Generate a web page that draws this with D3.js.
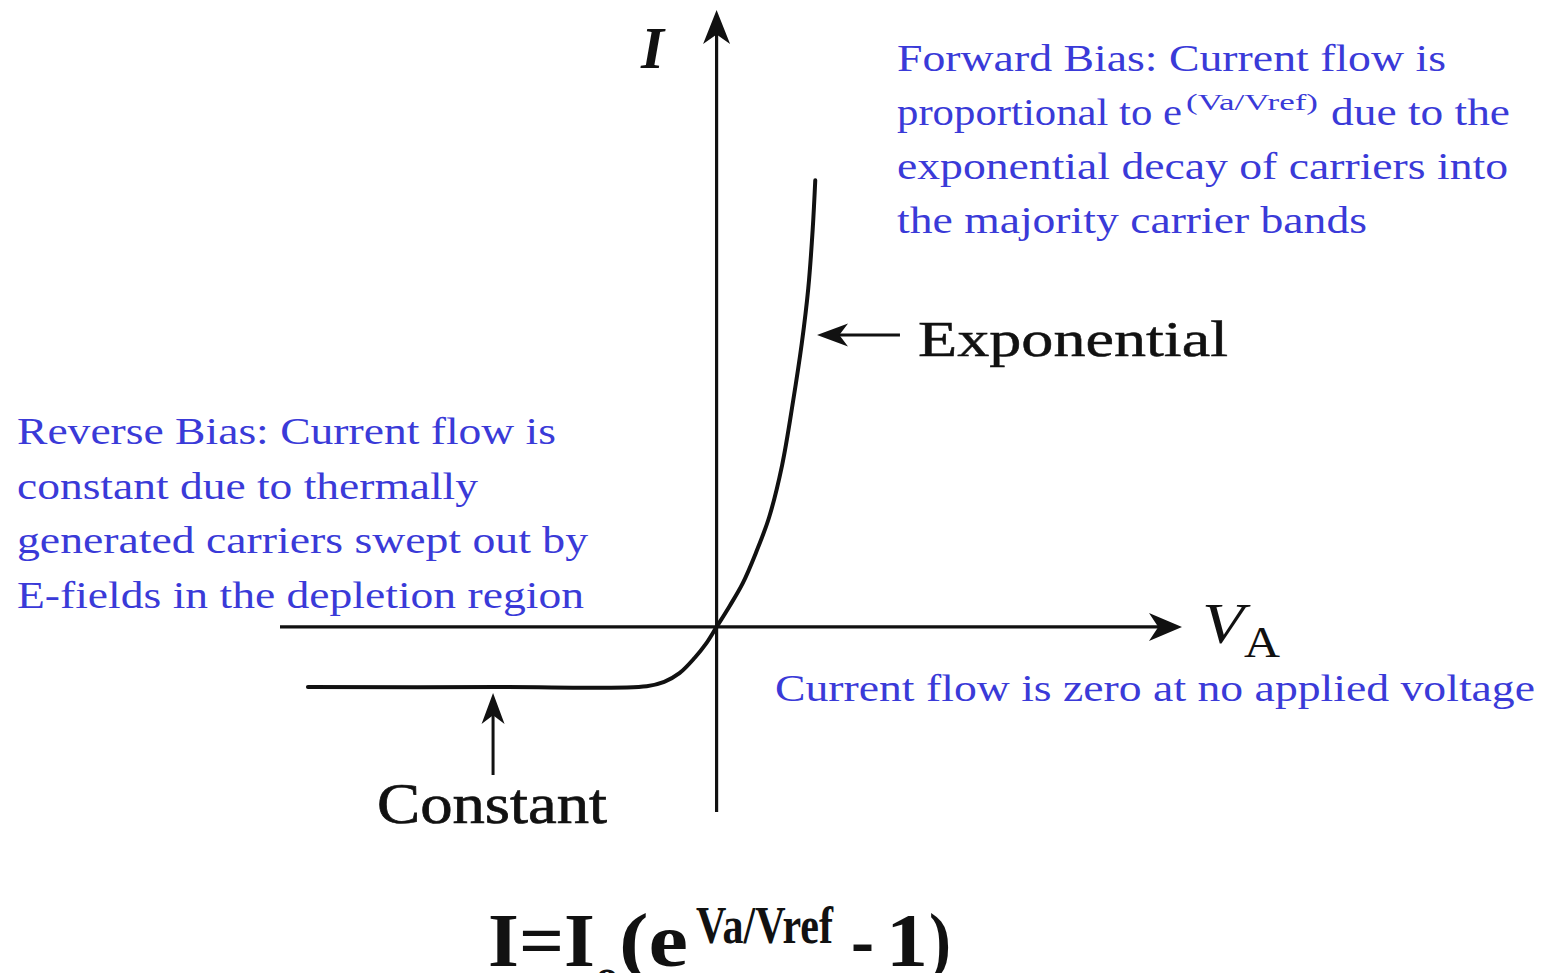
<!DOCTYPE html>
<html>
<head>
<meta charset="utf-8">
<script src="https://cdn.jsdelivr.net/npm/d3@7"></script>
<style>
  body { margin: 0; background: #fff; }
  svg { display: block; }
  text { font-family: "Liberation Serif", "DejaVu Serif Condensed", "DejaVu Serif", serif; }
</style>
</head>
<body>
<svg></svg>
<script>
// diode I-V curve (arbitrary units)
const voltage = [-0.936, -0.5, -0.16, -0.12, -0.085, -0.05, -0.025, 0, 0.03, 0.06, 0.09, 0.12, 0.15, 0.175, 0.195, 0.21, 0.22, 0.226];
const current = [-0.0975, -0.0975, -0.096, -0.089, -0.075, -0.05, -0.028, 0, 0.034, 0.071, 0.12, 0.177, 0.262, 0.365, 0.459, 0.549, 0.643, 0.724];

const vRange = [-1, 1.066];
const iRange = [-0.3, 1];

// arrows pointing at the curve: [from V, from I, to V, to I]
const arrowNotes = [
  [-0.512, -0.24, -0.512, -0.107],
  [0.42, 0.473, 0.23, 0.473]
];

const blueLeft = ["Reverse Bias: Current flow is", "constant due to thermally", "generated carriers swept out by", "E-fields in the depletion region"];
const blueLeftWidths = [539, 461, 571, 567];
const blueRight = ["Forward Bias: Current flow is", null, "exponential decay of carriers into", "the majority carrier bands"];
const blueRightWidths = [549, null, 611, 470];

// formula pieces: text, x, baseline, size, width
const formula = [
  ["I=I", 488, 966, 76, 107],
  ["o", 596, 990, 44, 22],
  ["(e", 619, 966, 76, 69],
  ["Va/Vref", 696, 943, 52, 137],
  ["-", 851, 966, 76, 23],
  ["1", 886, 966, 76, 42],
  [")", 929, 966, 76, 22]
];

function buildPlot(){
    const width = 1545, height = 973;
    const svg = d3.select("svg").attr("width", width).attr("height", height)
        .attr("viewBox", [0, 0, width, height]);

    const x = d3.scaleLinear().domain(vRange).range([280, 1182]);
    const y = d3.scaleLinear().domain(iRange).range([812, 10]);

    const ink = "#111";
    const blue = "#3a3ad8";

    const head = (len, w) => `M0,0 L${-len},${-w/2} L${-len*0.72},0 L${-len},${w/2} Z`;

    // axes
    svg.append("line")
        .attr("x1", x(vRange[0])).attr("x2", x(vRange[1]) - 20)
        .attr("y1", y(0)).attr("y2", y(0))
        .attr("stroke", ink).attr("stroke-width", 3.2);
    svg.append("path").attr("d", head(33, 28))
        .attr("transform", `translate(${x(vRange[1])},${y(0)})`).attr("fill", ink);

    svg.append("line")
        .attr("x1", x(0)).attr("x2", x(0))
        .attr("y1", y(iRange[0])).attr("y2", y(iRange[1]) + 20)
        .attr("stroke", ink).attr("stroke-width", 3.2);
    svg.append("path").attr("d", head(34, 27))
        .attr("transform", `translate(${x(0)},${y(iRange[1])}) rotate(-90)`).attr("fill", ink);

    // curve
    const pts = voltage.map((v, i) => [v, current[i]]);
    const line = d3.line().x(d => x(d[0])).y(d => y(d[1])).curve(d3.curveCatmullRom.alpha(0.5));
    svg.append("path").attr("d", line(pts))
        .attr("fill", "none").attr("stroke", ink).attr("stroke-width", 4)
        .attr("stroke-linecap", "round");

    // pointer arrows
    arrowNotes.forEach(a => {
        const x1 = x(a[0]), y1 = y(a[1]), x2 = x(a[2]), y2 = y(a[3]);
        const ang = Math.atan2(y2 - y1, x2 - x1) * 180 / Math.PI;
        const len = Math.hypot(x2 - x1, y2 - y1);
        const g = svg.append("g").attr("transform", `translate(${x1},${y1}) rotate(${ang})`);
        g.append("line").attr("x1", 0).attr("x2", len - 20).attr("y1", 0).attr("y2", 0)
            .attr("stroke", ink).attr("stroke-width", 3);
        g.append("path").attr("d", head(31, 23)).attr("transform", `translate(${len},0)`).attr("fill", ink);
    });

    // axis labels
    svg.append("text").attr("x", 641).attr("y", 68)
        .style("font-style", "italic").style("font-weight", "bold")
        .style("font-size", "59px").attr("fill", ink).text("I");
    svg.append("text").attr("x", 1202).attr("y", 643)
        .attr("textLength", 42).attr("lengthAdjust", "spacingAndGlyphs")
        .style("font-style", "italic")
        .style("font-size", "58px").attr("fill", ink).text("V");
    svg.append("text").attr("x", 1244).attr("y", 657)
        .attr("textLength", 36).attr("lengthAdjust", "spacingAndGlyphs")
        .style("font-size", "44px").attr("fill", ink).text("A");

    // curve labels
    svg.append("text").attr("x", 918).attr("y", 356)
        .attr("textLength", 310).attr("lengthAdjust", "spacingAndGlyphs")
        .style("font-size", "51px")
        .attr("fill", ink).attr("stroke", ink).attr("stroke-width", 0.5).text("Exponential");
    svg.append("text").attr("x", 377).attr("y", 823)
        .attr("textLength", 230).attr("lengthAdjust", "spacingAndGlyphs")
        .style("font-size", "56px")
        .attr("fill", ink).attr("stroke", ink).attr("stroke-width", 0.7).text("Constant");

    // blue notes
    const note = (tx, ty, str, w, size) => svg.append("text")
        .attr("x", tx).attr("y", ty)
        .attr("textLength", w).attr("lengthAdjust", "spacingAndGlyphs")
        .style("font-size", (size || 37) + "px")
        .attr("fill", blue).text(str);

    blueLeft.forEach((s, i) => note(17, 444 + i * 54.7, s, blueLeftWidths[i]));
    blueRight.forEach((s, i) => { if (s) note(897, 71 + i * 54, s, blueRightWidths[i]); });
    note(897, 125, "proportional to e", 285);
    note(1186, 110, "(Va/Vref)", 132, 24);
    note(1331, 125, "due to the", 179);
    note(775, 701, "Current flow is zero at no applied voltage", 760);

    // formula
    const f = svg.append("g").style("font-weight", "bold").attr("fill", ink);
    formula.forEach(p => {
        f.append("text").attr("x", p[1]).attr("y", p[2])
            .attr("textLength", p[4]).attr("lengthAdjust", "spacingAndGlyphs")
            .style("font-size", p[3] + "px").text(p[0]);
    });
}
buildPlot();
</script>
</body>
</html>
